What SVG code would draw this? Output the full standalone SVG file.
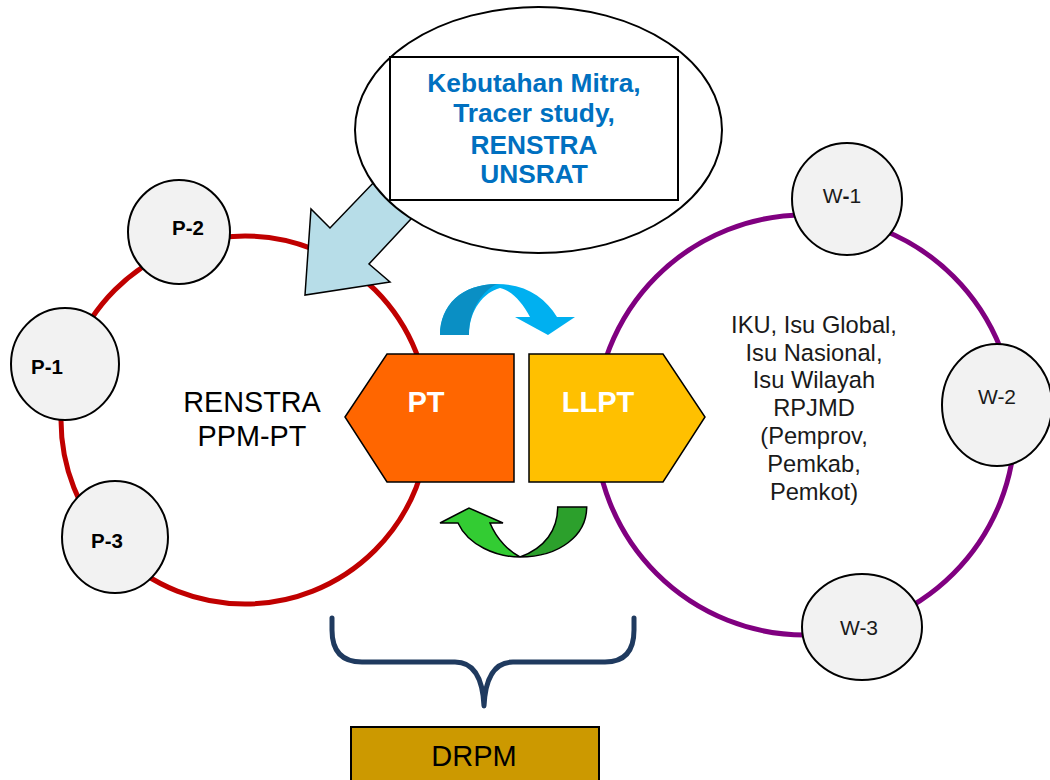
<svg xmlns="http://www.w3.org/2000/svg" width="1050" height="780" viewBox="0 0 1050 780">
<style>
  .sat{fill:#f2f2f2;stroke:#000;stroke-width:2}
  .pl{font-family:"Liberation Sans",Arial,sans-serif;font-size:20.5px;font-weight:bold;fill:#000;text-anchor:middle}
  .wl{font-family:"Liberation Sans",Arial,sans-serif;font-size:21px;fill:#1a1a1a;text-anchor:middle}
  .big{font-family:"Liberation Sans",Arial,sans-serif;fill:#000;text-anchor:middle}
  .iku{font-family:"Liberation Sans",Arial,sans-serif;font-size:23.7px;fill:#1a1a1a;text-anchor:middle}
  .src{font-family:"Liberation Sans",Arial,sans-serif;font-size:26.3px;font-weight:bold;fill:#0070c0;text-anchor:middle}
  .hx{font-family:"Liberation Sans",Arial,sans-serif;font-size:29px;font-weight:bold;fill:#fff;text-anchor:middle}
</style>
<rect width="1050" height="780" fill="#fff"/>

<g id="ring-left">
  <circle cx="245" cy="420" r="184" fill="none" stroke="#c00000" stroke-width="5"/>
</g>
<g id="ring-right">
  <circle cx="805" cy="425" r="210" fill="none" stroke="#800080" stroke-width="5"/>
</g>

<g id="connectors">
  <path id="input-arrow" d="M305,295 L311,209 L330,228 L400,155 L438,190 L369,264 L390,282 Z" fill="#b7dde8" stroke="#000" stroke-width="1.5" stroke-linejoin="miter"/>
  <g id="blue-curve">
    <path d="M440,335 C440,305 462,284 497,284 C525,284 545,297 557,317 L575,317 L548,335 L515,317 L530,317 C522,302 512,291 500,288 C484,292 469,310 469,335 Z" fill="#00b0f0"/>
    <path d="M440,335 C440,305 462,284 497,284 C484,290 469,308 469,335 Z" fill="#0a8fc4"/>
  </g>
  <g id="green-curve" stroke="#000" stroke-width="1.5" stroke-linejoin="miter">
    <path d="M557.7,507 L586.7,507 C586.7,535 560,557 520,557 C545,548 557.7,530 557.7,507 Z" fill="#2ca02c"/>
    <path d="M520,557 C496,557 468,545 458,523 L440,523 L469,508 L503,523 L490,523 C497,540 510,552 520,557 Z" fill="#33cc33"/>
  </g>
  <path id="brace" d="M332,618 L332,630 Q332,662 362,662 L455,662 Q482,662 484,706 Q486,662 513,662 L605,662 Q634,662 634,630 L634,618" fill="none" stroke="#1f3a5f" stroke-width="5" stroke-linecap="round" stroke-linejoin="round"/>
</g>

<g id="source">
  <ellipse cx="538.5" cy="130" rx="183.5" ry="123" fill="#fff" stroke="#000" stroke-width="2"/>
  <rect x="390" y="57" width="288" height="143" fill="#fff" stroke="#000" stroke-width="2"/>
  <text class="src" x="534" y="92">Kebutahan Mitra,</text>
  <text class="src" x="534" y="122">Tracer study,</text>
  <text class="src" x="534" y="154">RENSTRA</text>
  <text class="src" x="534" y="183">UNSRAT</text>
</g>

<g id="P-2"><ellipse class="sat" cx="179" cy="232" rx="51" ry="52"/><text class="pl" x="188" y="235">P-2</text></g>
<g id="P-1"><ellipse class="sat" cx="65" cy="364" rx="54" ry="56"/><text class="pl" x="47" y="374">P-1</text></g>
<g id="P-3"><ellipse class="sat" cx="115" cy="537" rx="53" ry="56"/><text class="pl" x="107" y="548">P-3</text></g>

<g id="renstra-label">
  <text class="big" font-size="28.8" x="252" y="412">RENSTRA</text>
  <text class="big" font-size="28.8" x="252" y="446">PPM-PT</text>
</g>

<g id="W-1"><ellipse class="sat" cx="847" cy="199" rx="55" ry="56"/><text class="wl" x="842" y="203">W<tspan font-weight="bold">-</tspan>1</text></g>
<g id="W-2"><ellipse class="sat" cx="997" cy="405" rx="55" ry="61"/><text class="wl" x="997" y="404">W-2</text></g>
<g id="W-3"><ellipse class="sat" cx="862" cy="627" rx="60" ry="53"/><text class="wl" x="859" y="635">W-3</text></g>

<g id="wilayah-label">
  <text class="iku" x="814" y="333">IKU, Isu Global,</text>
  <text class="iku" x="814" y="361">Isu Nasional,</text>
  <text class="iku" x="814" y="388">Isu Wilayah</text>
  <text class="iku" x="814" y="416">RPJMD</text>
  <text class="iku" x="814" y="444">(Pemprov,</text>
  <text class="iku" x="814" y="472">Pemkab,</text>
  <text class="iku" x="814" y="500">Pemkot)</text>
</g>

<g id="PT">
  <path d="M345,417 L387,354 L514,354 L514,482 L387,482 Z" fill="#ff6600" stroke="#000" stroke-width="1.5"/>
  <text class="hx" x="426" y="412">PT</text>
</g>
<g id="LLPT">
  <path d="M529,354 L663,354 L705,417 L663,482 L529,482 Z" fill="#ffc000" stroke="#000" stroke-width="1.5"/>
  <text class="hx" x="598" y="412">LLPT</text>
</g>

<g id="DRPM">
  <rect x="351" y="727" width="248" height="70" fill="#cc9900" stroke="#000" stroke-width="2"/>
  <text class="big" font-size="29" x="474" y="766">DRPM</text>
</g>
</svg>
